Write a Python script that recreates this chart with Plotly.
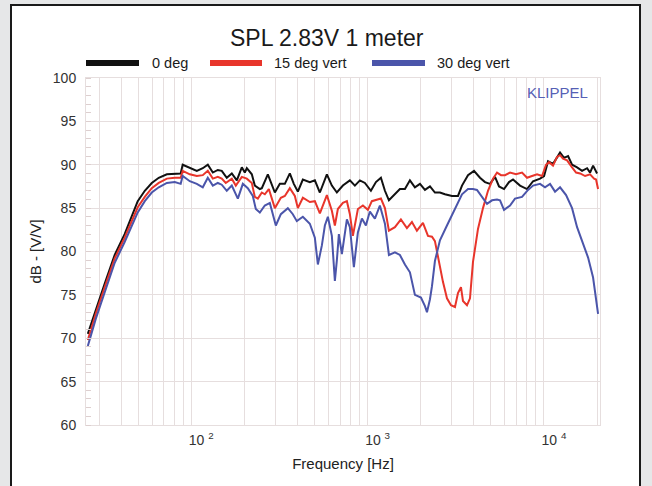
import plotly.graph_objects as go

# ---------------- data ----------------
freq_0 = [25.9, 28.7, 32.3, 36.8, 41.9, 49.7, 54.5, 59.7, 65.4, 72.7, 80.6, 87.1, 89.4, 98.1, 107.5,
          116.2, 124.1, 132.5, 141.4, 148.9, 159.0, 169.8, 181.3, 193.5, 201.2, 206.5, 220.5, 229.3,
          244.8, 251.3, 271.8, 297.8, 317.9, 339.4, 362.2, 381.6, 402.2, 429.4, 470.4, 502.2, 536.2,
          587.6, 627.1, 669.5, 724.2, 793.4, 847.0, 904.3, 965.4, 1044, 1115, 1190, 1254, 1321, 1410,
          1525, 1628, 1738, 1855, 1981, 2115, 2258, 2409, 2572, 2746, 3010, 3255, 3430, 3710, 4013,
          4339, 4632, 4946, 5280, 5564, 5939, 6339, 6680, 7318, 8020, 8675, 9506, 10016, 10550, 11262,
          12343, 13006, 13706, 14439, 15416, 16458, 17571, 18270, 19001, 20015]
spl_0 = [70.5, 73.3, 76.3, 79.6, 82.0, 85.8, 87.0, 87.9, 88.5, 88.9, 89.0, 89.0, 90.0, 89.6, 89.3,
         89.6, 90.0, 89.1, 89.4, 89.3, 88.5, 89.0, 88.2, 89.7, 89.1, 89.6, 88.9, 87.6,
         87.2, 87.3, 88.9, 86.8, 87.8, 87.8, 89.0, 87.8, 86.9, 88.3, 88.0, 88.2, 86.8,
         88.9, 87.6, 86.8, 87.6, 88.2, 87.6, 88.2, 87.9, 87.0, 88.0, 88.5, 87.0, 85.9, 86.5,
         87.2, 87.2, 88.2, 87.4, 87.8, 87.1, 87.5, 86.8, 86.8, 86.6, 86.4, 86.4, 87.6, 88.8, 89.3,
         88.5, 88.0, 87.8, 88.6, 87.5, 87.2, 88.0, 88.3, 87.6, 87.2, 88.1, 88.4, 88.7, 90.4, 90.1,
         91.4, 90.8, 91.0, 90.0, 89.7, 89.3, 89.6, 89.1, 89.9, 89.0]

freq_15 = [25.9, 28.7, 32.3, 36.8, 41.9, 49.7, 54.5, 59.7, 65.4, 72.7, 80.6, 87.1, 89.4, 98.1, 107.5,
           116.2, 124.1, 132.5, 141.4, 148.9, 156.9, 169.8, 178.9, 193.5, 206.5, 220.5, 229.3, 238.5,
           251.3, 261.3, 275.4, 297.8, 322.1, 339.4, 362.2, 386.7, 402.2, 429.4, 470.4, 502.2, 536.2,
           587.6, 627.1, 652.2, 678.3, 724.2, 763.1, 793.4, 825.1, 880.9, 940.5, 1004, 1057, 1190,
           1254, 1321, 1429, 1545, 1671, 1784, 1904, 2060, 2200, 2318, 2409, 2538, 2675, 2819, 2971,
           3130, 3255, 3385, 3475, 3662, 3808, 3960, 4227, 4513, 4817, 5144, 5420, 5711, 6016, 6423,
           6945, 7512, 8020, 8562, 9140, 9758, 10278, 10689, 11262, 11867, 12343, 12837, 13528,
           14439, 15216, 16033, 17117, 18270, 19251, 19755, 20280]
spl_15 = [69.8, 72.8, 75.9, 79.2, 81.6, 85.1, 86.3, 87.3, 87.9, 88.4, 88.5, 88.5, 89.3, 88.9, 88.7,
          88.8, 89.3, 88.4, 88.6, 88.4, 87.9, 88.4, 87.6, 88.6, 88.4, 87.9, 86.3, 86.1,
          86.8, 86.6, 87.2, 85.0, 86.2, 86.4, 87.3, 86.4, 85.0, 86.2, 85.7, 85.8, 84.4,
          86.5, 84.7, 83.0, 84.9, 85.6, 85.8, 84.3, 81.8, 84.9, 85.3, 84.8, 85.8, 86.1,
          85.0, 82.4, 82.8, 83.7, 82.7, 83.4, 82.4, 83.3, 81.8, 81.7, 81.2, 78.8, 76.5, 74.6, 73.8,
          73.6, 75.2, 75.9, 74.3, 73.8, 74.6, 78.8, 82.6, 85.0, 87.0, 88.4, 89.1, 88.8, 88.8, 89.1,
          88.9, 89.1, 88.5, 88.7, 88.9, 88.7, 90.0, 90.3, 89.9, 90.9, 91.1, 90.7, 90.5,
          89.7, 89.1, 89.0, 88.7, 88.9, 88.4, 88.3, 87.2]

freq_30 = [25.9, 28.7, 32.3, 36.8, 41.9, 49.7, 54.5, 59.7, 65.4, 72.7, 80.6, 87.1, 89.4, 98.1, 107.5,
           116.2, 124.1, 132.5, 141.4, 148.9, 159.0, 169.8, 183.7, 196.1, 209.2, 223.4, 232.3, 244.8,
           261.3, 279.0, 301.7, 322.1, 353.0, 376.7, 396.9, 429.4, 470.4, 502.2, 522.3, 550.4, 572.4,
           595.3, 627.1, 652.2, 669.5, 687.2, 714.7, 733.7, 763.1, 793.4, 836.0, 880.9, 928.3, 978.1,
           1030, 1100, 1174, 1254, 1321, 1429, 1525, 1628, 1738, 1855, 2007, 2115, 2171, 2258, 2318,
           2409, 2572, 2819, 3049, 3255, 3430, 3710, 3960, 4172, 4513, 4755, 5077, 5420, 5636, 5939,
           6423, 6855, 7512, 8125, 8675, 9506, 10144, 10829, 11561, 12343, 13353, 14439, 15416,
           16675, 17802, 19001, 19755, 20280]
spl_30 = [69.1, 72.2, 75.3, 78.7, 81.1, 84.5, 85.8, 86.8, 87.4, 87.9, 88.0, 87.8, 88.7, 88.1, 87.8,
          87.4, 88.5, 87.6, 87.9, 87.7, 87.0, 87.6, 86.1, 87.8, 87.3, 86.4, 84.9, 84.5,
          85.3, 85.6, 83.0, 84.3, 85.0, 84.3, 83.5, 84.0, 83.2, 81.6, 78.5, 80.7, 83.0,
          84.0, 81.8, 76.6, 79.0, 82.0, 79.7, 81.5, 83.7, 82.8, 78.2, 82.2, 83.8, 83.0,
          84.6, 83.8, 85.3, 83.2, 79.6, 79.9, 79.6, 78.5, 77.6, 75.0, 74.7, 73.7, 73.0, 74.5, 76.0,
          78.9, 81.3, 83.0, 84.4, 85.6, 86.6, 87.2, 87.2, 87.1, 86.2, 85.5, 85.9, 86.0, 85.9, 84.8,
          85.3, 86.1, 86.3, 87.1, 87.6, 87.8, 87.4, 87.8, 86.9, 87.4, 86.5, 85.0, 82.8,
          80.9, 79.3, 77.0, 74.7, 72.8]

series_names = ["0 deg", "15 deg vert", "30 deg vert"]
series_colors = ["#111111", "#e8352b", "#4b55aa"]

x_major_vals = [100, 1000, 10000]
x_major_text = ["10 <sup>2</sup>", "10 <sup>3</sup>", "10 <sup>4</sup>"]
x_minor_vals = [30, 40, 50, 60, 70, 80, 90, 200, 300, 400, 500, 600, 700, 800, 900,
                2000, 3000, 4000, 5000, 6000, 7000, 8000, 9000, 20000]
y_ticks = [60, 65, 70, 75, 80, 85, 90, 95, 100]

# ---------------- figure ----------------
W, H = 652, 486
L, R, T, B = 86, 52, 78, 61
pw, ph = W - L - R, H - T - B

def px(x):
    return (x - L) / pw

def py(y):
    return (H - B - y) / ph

fig = go.Figure()
for f, s, name, col in zip([freq_0, freq_15, freq_30], [spl_0, spl_15, spl_30],
                           series_names, series_colors):
    fig.add_trace(go.Scatter(x=f, y=s, mode="lines", name=name,
                             line=dict(color=col, width=2), showlegend=False))

grid = "#e6dede"
font_main = "Liberation Sans, Arial, sans-serif"

shapes = [
    dict(type="rect", xref="paper", yref="paper", x0=px(11), x1=px(640), y0=py(500), y1=py(5),
         line=dict(color="#1a1a1a", width=2), fillcolor="white", layer="below"),
]
annotations = [
    dict(text="SPL 2.83V 1 meter", xref="paper", yref="paper", x=px(327), y=py(38),
         showarrow=False, font=dict(size=23, color="#1a1a1a", family=font_main),
         xanchor="center", yanchor="middle"),
    dict(text="KLIPPEL", xref="paper", yref="paper", x=px(557), y=py(92),
         showarrow=False, font=dict(size=15, color="#5560b5", family=font_main),
         xanchor="center", yanchor="middle"),
]
# manual legend (thick sample bars)
leg = [(86, 139, 150), (210, 262, 272), (372, 425, 435)]
for (a, b, t), name, col in zip(leg, series_names, series_colors):
    shapes.append(dict(type="line", xref="paper", yref="paper", x0=px(a), x1=px(b),
                       y0=py(63), y1=py(63), line=dict(color=col, width=6)))
    annotations.append(dict(text=name, xref="paper", yref="paper", x=px(t), y=py(63),
                            showarrow=False, xanchor="left", yanchor="middle",
                            font=dict(size=14.5, color="#1a1a1a", family=font_main)))

fig.update_layout(
    width=W, height=H,
    margin=dict(l=L, r=R, t=T, b=B, pad=0),
    paper_bgcolor="#e6e7e8",
    plot_bgcolor="white",
    font=dict(family=font_main, color="#333333", size=14),
    shapes=shapes,
    annotations=annotations,
    showlegend=False,
)
fig.update_xaxes(
    type="log", range=[1.403, 4.318],
    tickmode="array", tickvals=x_major_vals, ticktext=x_major_text,
    showgrid=True, gridcolor=grid, gridwidth=1,
    minor=dict(tickmode="array", tickvals=x_minor_vals, showgrid=True, gridcolor=grid, gridwidth=1),
    showline=True, linecolor=grid, mirror=True, zeroline=False,
    ticks="", ticklabelstandoff=2, ticklabelshift=10,
    tickfont=dict(size=14, color="#333333"),
    title=dict(text="Frequency [Hz]", font=dict(size=15, color="#222222"), standoff=11),
)
fig.update_yaxes(
    range=[60, 100], tickmode="array", tickvals=y_ticks,
    showgrid=True, gridcolor=grid, gridwidth=1,
    minor=dict(dtick=1, ticks="inside", ticklen=5, tickcolor="#ddcfcf", showgrid=False),
    showline=True, linecolor=grid, mirror=True, zeroline=False,
    ticks="", ticklabelstandoff=6,
    tickfont=dict(size=14, color="#333333"),
    title=dict(text="dB - [V/V]", font=dict(size=15, color="#222222"), standoff=7),
)

fig.write_html("out.html",
               config={"displayModeBar": False},
               post_script="document.body.style.margin='0';document.body.style.padding='0';"
                           "document.body.style.overflow='hidden';")
